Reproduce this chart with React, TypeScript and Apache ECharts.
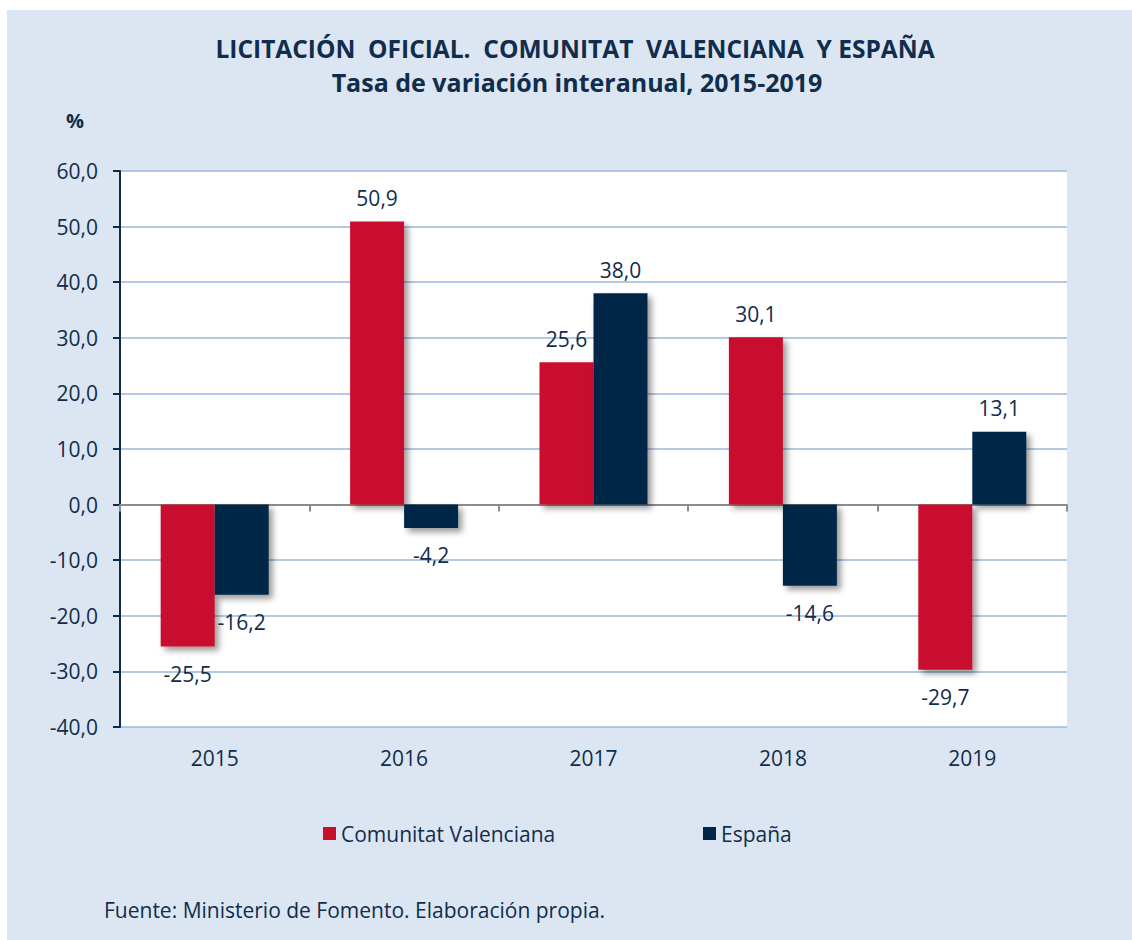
import React, { useEffect, useRef } from "react";
import * as echarts from "echarts";

const categories = ["2015", "2016", "2017", "2018", "2019"];
const valenciana = [-25.5, 50.9, 25.6, 30.1, -29.7];
const espana = [-16.2, -4.2, 38.0, -14.6, 13.1];
const seriesNames = ["Comunitat Valenciana", "España"];
const yTicks = { min: -40, max: 60, interval: 10 };
const titleText = "LICITACIÓN  OFICIAL.  COMUNITAT  VALENCIANA  Y ESPAÑA";
const subtitleText = "Tasa de variación interanual, 2015-2019";
const unitText = "%";
const sourceText = "Fuente: Ministerio de Fomento. Elaboración propia.";

const FONT = "'Open Sans', Lato, sans-serif";
const TEXT = "#102d4c";
const RED = "#c8102e";
const NAVY = "#002846";
const BG = "#dce6f2";

const fmt = (v: number) => v.toFixed(1).replace(".", ",");

function mkData(vals: number[]) {
  return vals.map((v) => ({
    value: v,
    label: { position: v >= 0 ? "top" : "bottom", distance: v >= 0 ? 13 : 17 },
  }));
}

export default function App() {
  const ref = useRef<HTMLDivElement>(null);
  useEffect(() => {
    if (!ref.current) return;
    const chart = echarts.init(ref.current, undefined, { renderer: "svg" });
    const labelCommon = {
      show: true,
      color: TEXT,
      fontFamily: FONT,
      fontSize: 21,
      formatter: (p: any) => fmt(p.value),
    };
    const barStyle = (c: string) => ({
      color: c,
      shadowColor: "rgba(0,0,0,0.4)",
      shadowBlur: 6,
      shadowOffsetX: 4,
      shadowOffsetY: 4,
    });
    chart.setOption({
      animation: false,
      textStyle: { fontFamily: FONT },
      graphic: [
        {
          type: "rect",
          shape: { x: 7, y: 10, width: 1200, height: 1000 },
          style: { fill: BG },
          z: -10,
          silent: true,
        },
        {
          type: "text",
          x: 575,
          y: 48,
          style: {
            text: titleText,
            fill: TEXT,
            font: `bold 24.5px ${FONT}`,
            textAlign: "center",
            textVerticalAlign: "middle",
          },
        },
        {
          type: "text",
          x: 577,
          y: 82,
          style: {
            text: subtitleText,
            fill: TEXT,
            font: `bold 25px ${FONT}`,
            textAlign: "center",
            textVerticalAlign: "middle",
          },
        },
        {
          type: "text",
          x: 75,
          y: 120,
          style: {
            text: unitText,
            fill: TEXT,
            font: `bold 20px ${FONT}`,
            textAlign: "center",
            textVerticalAlign: "middle",
          },
        },
        {
          type: "text",
          x: 104,
          y: 910,
          style: {
            text: sourceText,
            fill: TEXT,
            font: `21px ${FONT}`,
            textAlign: "left",
            textVerticalAlign: "middle",
          },
        },
      ],
      legend: [
        {
          data: [seriesNames[0]],
          left: 323,
          top: 823,
          padding: 0,
          itemWidth: 13,
          itemHeight: 13,
          icon: "rect",
          itemGap: 6,
          textStyle: { color: TEXT, fontSize: 21, fontFamily: FONT },
        },
        {
          data: [seriesNames[1]],
          left: 703,
          top: 823,
          padding: 0,
          itemWidth: 13,
          itemHeight: 13,
          icon: "rect",
          textStyle: { color: TEXT, fontSize: 21, fontFamily: FONT },
        },
      ],
      grid: {
        left: 120,
        top: 171,
        width: 947,
        height: 556,
        show: true,
        backgroundColor: "#ffffff",
        borderWidth: 0,
      },
      xAxis: [
        {
          type: "category",
          data: categories,
          position: "bottom",
          axisLine: { show: false, onZero: false },
          axisTick: { show: false },
          axisLabel: {
            color: TEXT,
            fontSize: 21,
            fontFamily: FONT,
            margin: 20,
          },
        },
        {
          type: "category",
          data: categories,
          position: "bottom",
          axisLine: {
            show: true,
            onZero: true,
            lineStyle: { color: "#8c8c8c", width: 2 },
          },
          axisTick: {
            show: true,
            length: 7,
            lineStyle: { color: "#8c8c8c", width: 2 },
          },
          axisLabel: { show: false },
        },
      ],
      yAxis: {
        type: "value",
        min: yTicks.min,
        max: yTicks.max,
        interval: yTicks.interval,
        axisLine: { show: true, lineStyle: { color: "#0f2b48", width: 2 } },
        axisTick: { show: true, length: 7, lineStyle: { color: "#0f2b48", width: 2 } },
        axisLabel: {
          color: TEXT,
          fontSize: 21,
          fontFamily: FONT,
          margin: 22,
          formatter: (v: number) => fmt(v),
        },
        splitLine: { show: true, lineStyle: { color: "#9ab6da", width: 1.5 } },
      },
      series: [
        {
          name: seriesNames[0],
          type: "bar",
          xAxisIndex: 0,
          data: mkData(valenciana),
          barWidth: 54,
          barGap: "0%",
          itemStyle: barStyle(RED),
          label: labelCommon,
        },
        {
          name: seriesNames[1],
          type: "bar",
          xAxisIndex: 0,
          data: mkData(espana),
          barWidth: 54,
          barGap: "0%",
          itemStyle: barStyle(NAVY),
          label: labelCommon,
          z: 2,
        },
      ],
    });
    return () => chart.dispose();
  }, []);
  return (
    <div
      ref={ref}
      style={{ position: "absolute", left: 0, top: 0, width: 1132, height: 940 }}
    />
  );
}
